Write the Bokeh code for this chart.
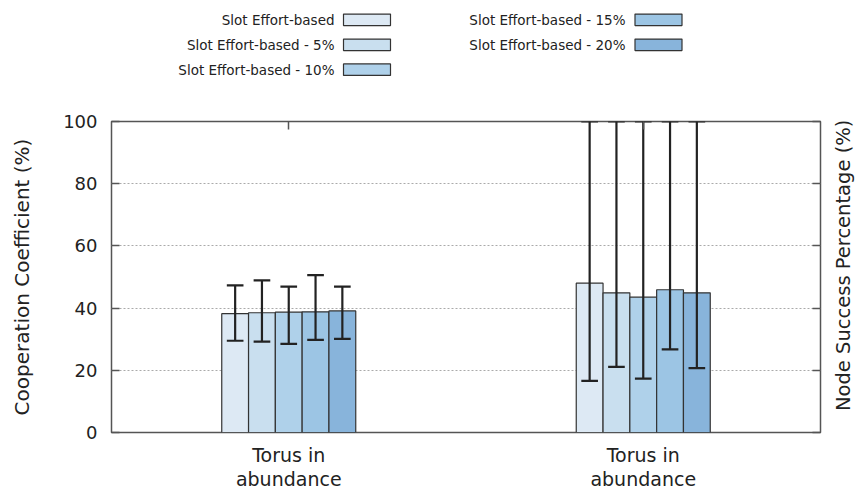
import math
from bokeh.plotting import figure
from bokeh.layouts import column, row
from bokeh.models import Range1d, LinearAxis, FixedTicker, ColumnDataSource
from bokeh.core.properties import value
from bokeh.embed import file_html
from bokeh.resources import INLINE

# ---- data -------------------------------------------------------------
categories = ["Torus in\nabundance", "Torus in\nabundance"]
series = ["Slot Effort-based", "Slot Effort-based - 5%", "Slot Effort-based - 10%",
          "Slot Effort-based - 15%", "Slot Effort-based - 20%"]
colors = ["#dde9f4", "#c9dfef", "#afd1ea", "#9cc5e4", "#88b4db"]

# mean values per series, one entry per category
means = [
    [38.2, 48.0],
    [38.5, 44.9],
    [38.7, 43.5],
    [38.8, 45.9],
    [39.1, 44.9],
]
err_low = [
    [29.5, 16.6],
    [29.2, 21.1],
    [28.5, 17.3],
    [29.8, 26.7],
    [30.1, 20.7],
]
err_high = [
    [47.3, 100.0],
    [48.9, 100.0],
    [46.9, 100.0],
    [50.6, 100.0],
    [46.9, 100.0],
]
y_ticks = [0, 20, 40, 60, 80, 100]
right_title = "Node Success Percentage (%)"

FONT = "DejaVu Sans"
BAR_W = 0.0756
CAP_W = 0.047
LEFT, RIGHT = 111, 38   # page margins around the plotting frame
LH = 92                 # height of the legend strip
MAIN_W = 858 - 36       # main chart width; a 36 px strip on the right holds its title

# ---- legend strip (x in page pixels) ----------------------------------
leg = figure(width=858, height=LH, x_range=Range1d(LEFT, 858 - RIGHT), y_range=Range1d(LH, 0),
             x_axis_location=None, y_axis_location=None,
             output_backend="svg", toolbar_location=None,
             min_border_left=LEFT, min_border_right=RIGHT, min_border_top=0, min_border_bottom=0,
             outline_line_color=None)
leg.grid.visible = False

text_right = [334, 334, 334, 625, 625]
sw_center = [366.5, 366.5, 366.5, 658, 658]
rows = [19.3, 44.3, 69.2, 19.3, 44.3]
leg.text(x=text_right, y=rows, text=series, text_align="right", text_baseline="middle",
         text_font=value(FONT), text_font_size="13.5px", text_color="#222222")
leg.rect(x=sw_center, y=rows, width=47, height=11.5, fill_color=colors,
         line_color="#333333", line_width=1.2)

# ---- main chart -------------------------------------------------------
p = figure(width=MAIN_W, height=492 - LH, x_range=Range1d(-0.5, 1.5), y_range=Range1d(0, 100),
           output_backend="svg", toolbar_location=None,
           min_border_left=LEFT, min_border_right=2, min_border_top=29, min_border_bottom=60)
p.outline_line_color = "#555555"
p.outline_line_width = 1.5
p.background_fill_color = "white"
p.border_fill_color = "white"

p.xgrid.visible = False
p.ygrid.ticker = FixedTicker(ticks=[20, 40, 60, 80])
p.ygrid.grid_line_color = "#aaaaaa"
p.ygrid.grid_line_dash = "2 2"
p.ygrid.grid_line_width = 1

n = len(series)
for i in range(n):
    xs = [g + (i - (n - 1) / 2) * BAR_W for g in range(len(categories))]
    src = ColumnDataSource(dict(x=xs, top=means[i], lo=err_low[i], hi=err_high[i],
                                x0=[x - CAP_W / 2 for x in xs], x1=[x + CAP_W / 2 for x in xs]))
    p.vbar(x="x", top="top", bottom=0, width=BAR_W, source=src,
           fill_color=colors[i], line_color="#333333", line_width=1.2)
    p.segment(x0="x", y0="lo", x1="x", y1="hi", source=src, line_color="#222222", line_width=2.2)
    p.segment(x0="x0", y0="lo", x1="x1", y1="lo", source=src, line_color="#222222", line_width=2.2)
    p.segment(x0="x0", y0="hi", x1="x1", y1="hi", source=src, line_color="#222222", line_width=2.2)

# bottom axis with category labels
xa = p.xaxis[0]
xa.ticker = FixedTicker(ticks=list(range(len(categories))))
xa.major_label_overrides = {i: c for i, c in enumerate(categories)}
xa.major_label_text_font = FONT
xa.major_label_text_font_size = "19px"
xa.major_label_text_line_height = 1.1
xa.major_label_text_color = "#222222"
xa.major_label_standoff = 11
xa.major_tick_in = 0
xa.major_tick_out = 0
xa.minor_tick_line_color = None
xa.axis_line_color = None

# left axis
ya = p.yaxis[0]
ya.ticker = FixedTicker(ticks=y_ticks)
ya.major_label_text_font = FONT
ya.major_label_text_font_size = "18px"
ya.major_label_text_color = "#222222"
ya.major_label_standoff = 14
ya.major_tick_in = 8
ya.major_tick_out = 0
ya.major_tick_line_color = "#555555"
ya.major_tick_line_width = 1.5
ya.minor_tick_line_color = None
ya.axis_line_color = None
ya.axis_label = "Cooperation Coefficient (%)"
ya.axis_label_text_font = FONT
ya.axis_label_text_font_size = "20px"
ya.axis_label_text_font_style = "normal"
ya.axis_label_text_color = "#222222"
ya.axis_label_standoff = 26

# right axis: tick marks only
ra = LinearAxis(ticker=FixedTicker(ticks=y_ticks))
ra.major_label_text_font_size = "0px"
ra.major_label_standoff = 0
ra.major_tick_in = 8
ra.major_tick_out = 0
ra.major_tick_line_color = "#555555"
ra.major_tick_line_width = 1.5
ra.minor_tick_line_color = None
ra.axis_line_color = None
p.add_layout(ra, "right")

# top axis: tick marks at category positions
ta = LinearAxis(ticker=FixedTicker(ticks=list(range(len(categories)))))
ta.major_label_text_font_size = "0px"
ta.major_label_standoff = 0
ta.major_tick_in = 8
ta.major_tick_out = 0
ta.major_tick_line_color = "#555555"
ta.major_tick_line_width = 1.5
ta.minor_tick_line_color = None
ta.axis_line_color = None
p.add_layout(ta, "above")

# ---- right-hand title strip (coordinates in strip pixels) --------------
SW = 858 - MAIN_W
side = figure(width=SW, height=492 - LH, x_range=Range1d(0, SW), y_range=Range1d(492 - LH, 0),
              x_axis_location=None, y_axis_location=None,
              output_backend="svg", toolbar_location=None,
              min_border=0, outline_line_color=None)
side.grid.visible = False
side.text(x=[843 - MAIN_W], y=[277 - LH], text=[right_title], angle=math.pi / 2,
          text_align="center", text_baseline="middle",
          text_font=value(FONT), text_font_size="19.5px", text_color="#222222")

layout = column(leg, row(p, side, spacing=0), spacing=0)
open("out.html", "w").write(file_html(layout, INLINE))
